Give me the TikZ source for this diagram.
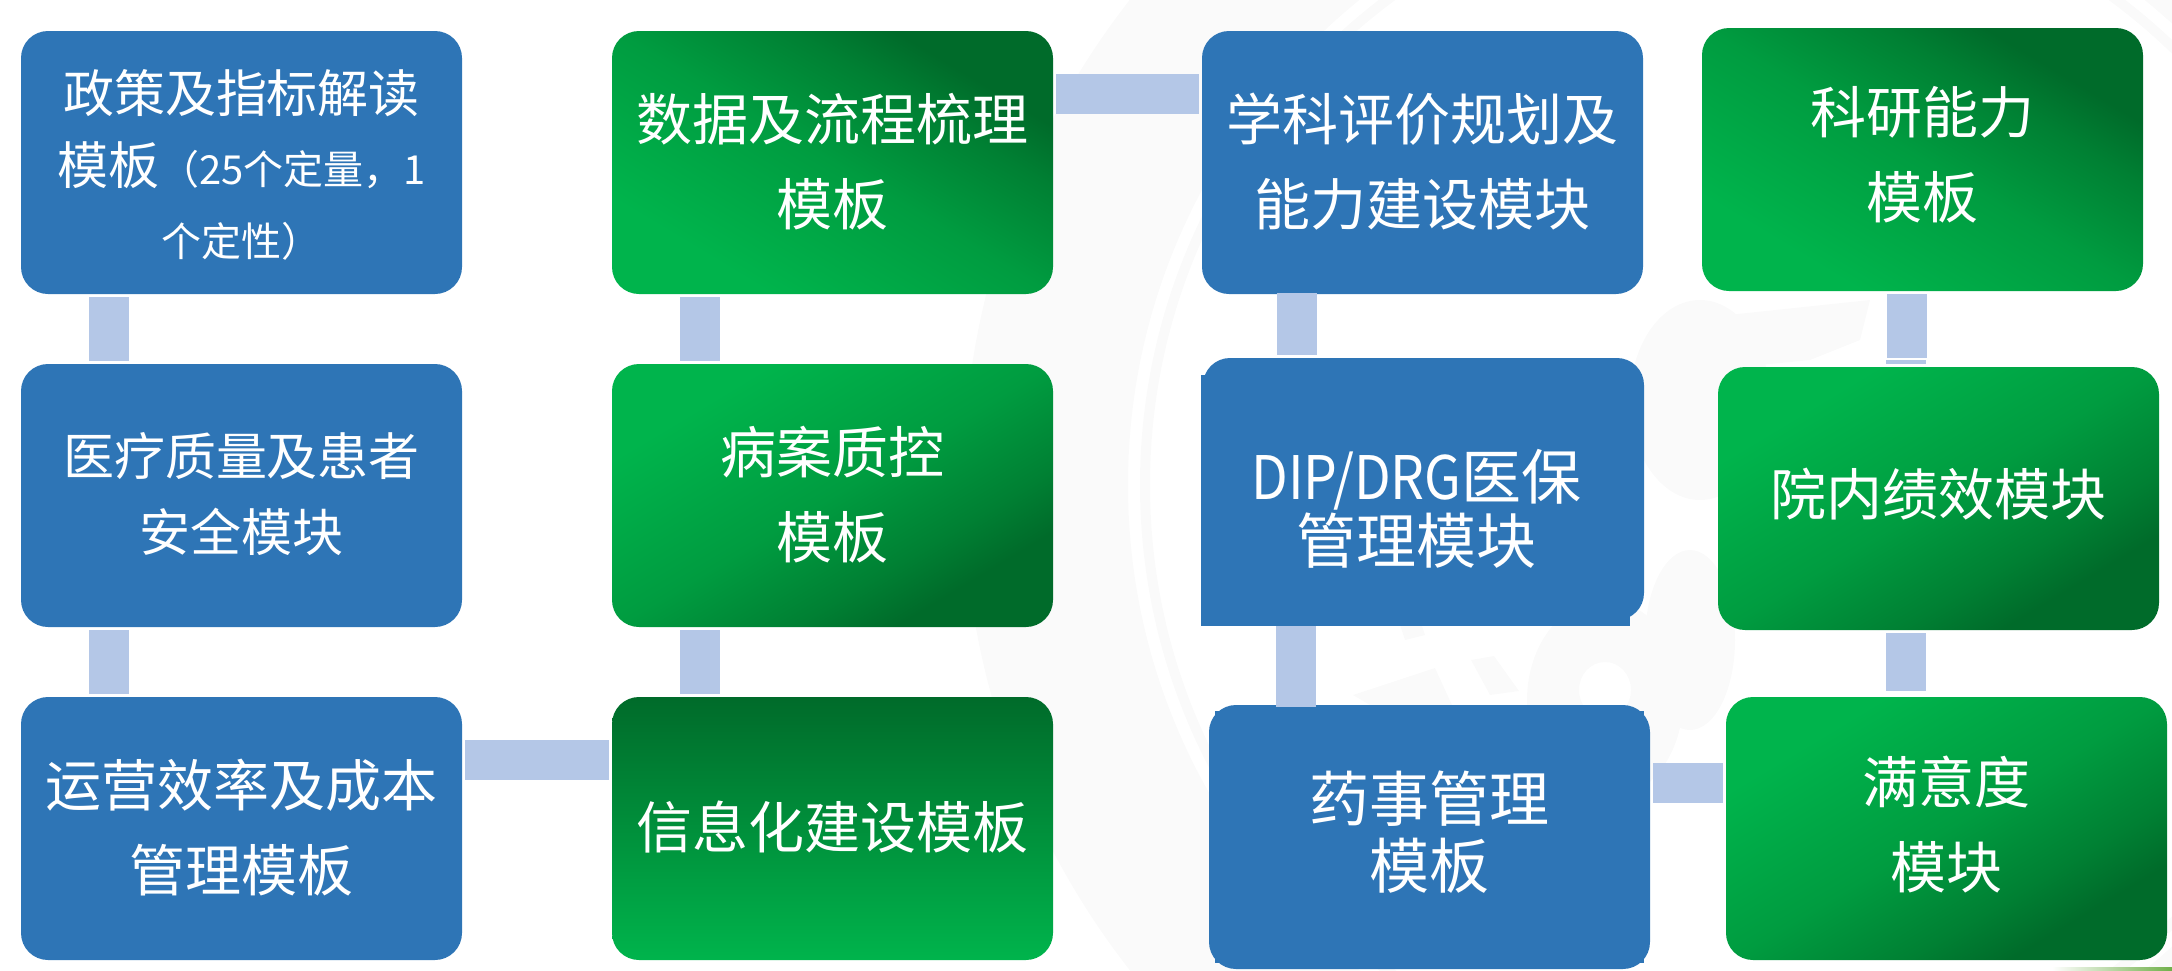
\documentclass[tikz,border=0pt]{standalone}
\usepackage{fontspec}
\usepackage{graphicx}
\setmainfont{Noto Sans CJK SC}
\definecolor{boxblue}{HTML}{2E75B6}
\definecolor{connblue}{HTML}{B4C7E7}
\definecolor{gdark}{HTML}{006B2A}
\definecolor{gmidb}{HTML}{008033}
\definecolor{gmida}{HTML}{009C40}
\definecolor{glight}{HTML}{00B44C}
\definecolor{seal}{HTML}{FAFAFA}
\definecolor{thinline}{HTML}{70B04A}
\pgfdeclareverticalshading{greenrun}{100bp}{color(0bp)=(glight); color(28bp)=(glight); color(50bp)=(gmida); color(64bp)=(gmidb); color(72bp)=(gdark); color(100bp)=(gdark)}
\tikzset{
  card/.style={rectangle,rounded corners=27pt,minimum width=441pt,minimum height=263pt,inner sep=0pt,outer sep=0pt},
  bluecard/.style={card,fill=boxblue},
  greencard/.style={card,shade,shading=greenrun,shading angle=#1},
  greenlinear/.style={card,top color=gdark,bottom color=glight},
  label51/.style={text=white,align=center,inner sep=0pt,font=\fontsize{51}{76}\selectfont},
  label56/.style={text=white,align=center,inner sep=0pt,font=\fontsize{56}{85}\selectfont},
  label60/.style={text=white,align=center,inner sep=0pt,font=\fontsize{60}{64}\selectfont},
  conn/.style={draw=connblue,line width=40pt,line cap=butt},
  sealpart/.style={fill=seal,draw=none},
}
\newcommand{\smalltxt}{\fontsize{40}{72}\selectfont}
\begin{document}
\begin{tikzpicture}[x=1pt,y=-1pt]
\useasboundingbox (0,0) rectangle (2172,970);
% faint seal in the background
\begin{scope}
\clip (0,0) rectangle (2172,970);
\fill[sealpart,even odd rule] (1752,485) circle[radius=789] (1752,485) circle[radius=624];
\fill[sealpart,even odd rule] (1752,485) circle[radius=612] (1752,485) circle[radius=602];
\fill[sealpart] (1353,695) -- (1435,668) -- (1452,705) -- (1370,705) -- cycle;
\fill[sealpart] (1471,660) -- (1494,656) -- (1519,691) -- (1490,695) -- cycle;
\fill[sealpart] (1400,625) -- (1420,620) -- (1425,635) -- (1405,640) -- cycle;
\fill[sealpart,even odd rule] (1605,700) ellipse[x radius=78, y radius=100] (1605,690) ellipse[x radius=26, y radius=28];
\fill[sealpart] (1700,400) ellipse[x radius=70, y radius=100];
\fill[sealpart] (1690,640) ellipse[x radius=45, y radius=90];
\fill[sealpart] (1728,315) -- (1870,300) -- (1860,340) -- (1810,360) -- (1760,365) -- cycle;
\end{scope}
\shade[left color=white,right color=thinline] (2052,967.5) rectangle (2172,970);
% boxes
\node[bluecard] (a1) at (241.5,162.5) {};
\node[bluecard] (a2) at (241.5,495.5) {};
\node[bluecard] (a3) at (241.5,828.5) {};
\node[greencard=-31]  (b1) at (832.5,162.5) {};
\node[greencard=-149] (b2) at (832.5,495.5) {};
\node[greenlinear]    (b3) at (832.5,828.5) {};
\node[bluecard] (c1) at (1422.5,162.5) {};
\node[bluecard,minimum height=262pt] (c2) at (1423.5,489) {};
\fill[boxblue] (1201,375) rectangle (1630,626);
\node[bluecard,minimum height=264pt] (c3) at (1429.5,837) {};
\fill[boxblue] (1215,711) rectangle (1644,963);
\node[greencard=-31]  (d1) at (1922.5,159.5) {};
\node[greencard=-149] (d2) at (1938.5,498.5) {};
\node[greencard=-149] (d3) at (1946.5,828.5) {};
% texts
\node[label51] (ta1) at (241.5,165) {政策及指标解读\\[-4pt]模板{\smalltxt （25个定量，1}\\[-4pt]{\smalltxt 个定性）}};
\node[label51] (ta2) at (241.5,494) {医疗质量及患者\\安全模块};
\node[label56] (ta3) at (241.5,828) {运营效率及成本\\管理模板};
\node[label56] (tb1) at (832.5,162) {数据及流程梳理\\模板};
\node[label56] (tb2) at (832.5,495) {病案质控\\模板};
\node[label56] (tb3) at (832.5,827) {信息化建设模板};
\node[label56] (tc1) at (1422.5,162) {学科评价规划及\\能力建设模块};
\node[label60] (tc2) at (1416.5,509) {\scalebox{0.89}[1]{DIP/DRG}医保\\管理模块};
\node[label60,font=\fontsize{60}{67}\selectfont] (tc3) at (1429.5,832) {药事管理\\模板};
\node[label56] (td1) at (1922.5,155) {科研能力\\模板};
\node[label56] (td2) at (1938.5,494) {院内绩效模块};
\node[label56] (td3) at (1946.5,825) {满意度\\模块};
% connectors
\draw[conn] ([shift={(-132.5,3)}]a1.south) -- ([shift={(-132.5,-3)}]a2.north);
\draw[conn] ([shift={(-132.5,3)}]a2.south) -- ([shift={(-132.5,-3)}]a3.north);
\draw[conn] ([shift={(-132.5,3)}]b1.south) -- ([shift={(-132.5,-3)}]b2.north);
\draw[conn] ([shift={(-132.5,3)}]b2.south) -- ([shift={(-132.5,-3)}]b3.north);
\draw[conn] ([shift={(3,-68.5)}]a3.east) -- ([shift={(-3,-68.5)}]b3.west);
\draw[conn] ([shift={(3,-68.5)}]b1.east) -- ([shift={(-3,-68.5)}]c1.west);
\draw[conn] ([shift={(-125.5,-1)}]c1.south) -- ([shift={(-126.5,-3)}]c2.north);
\draw[conn] ([shift={(-127.5,6)}]c2.south) -- ([shift={(-133.5,2)}]c3.north);
\draw[conn] ([shift={(3,-54)}]c3.east) -- ([shift={(-3,-45.5)}]d3.west);
\coordinate (dgap) at (1906,360);
\draw[conn] ([shift={(-15.5,3)}]d1.south) -- ++(0,64);
\draw[conn] (dgap) -- ([shift={(-32.5,-3)}]d2.north);
\draw[conn] ([shift={(-32.5,3)}]d2.south) -- ([shift={(-40.5,-6)}]d3.north);
\end{tikzpicture}
\end{document}
